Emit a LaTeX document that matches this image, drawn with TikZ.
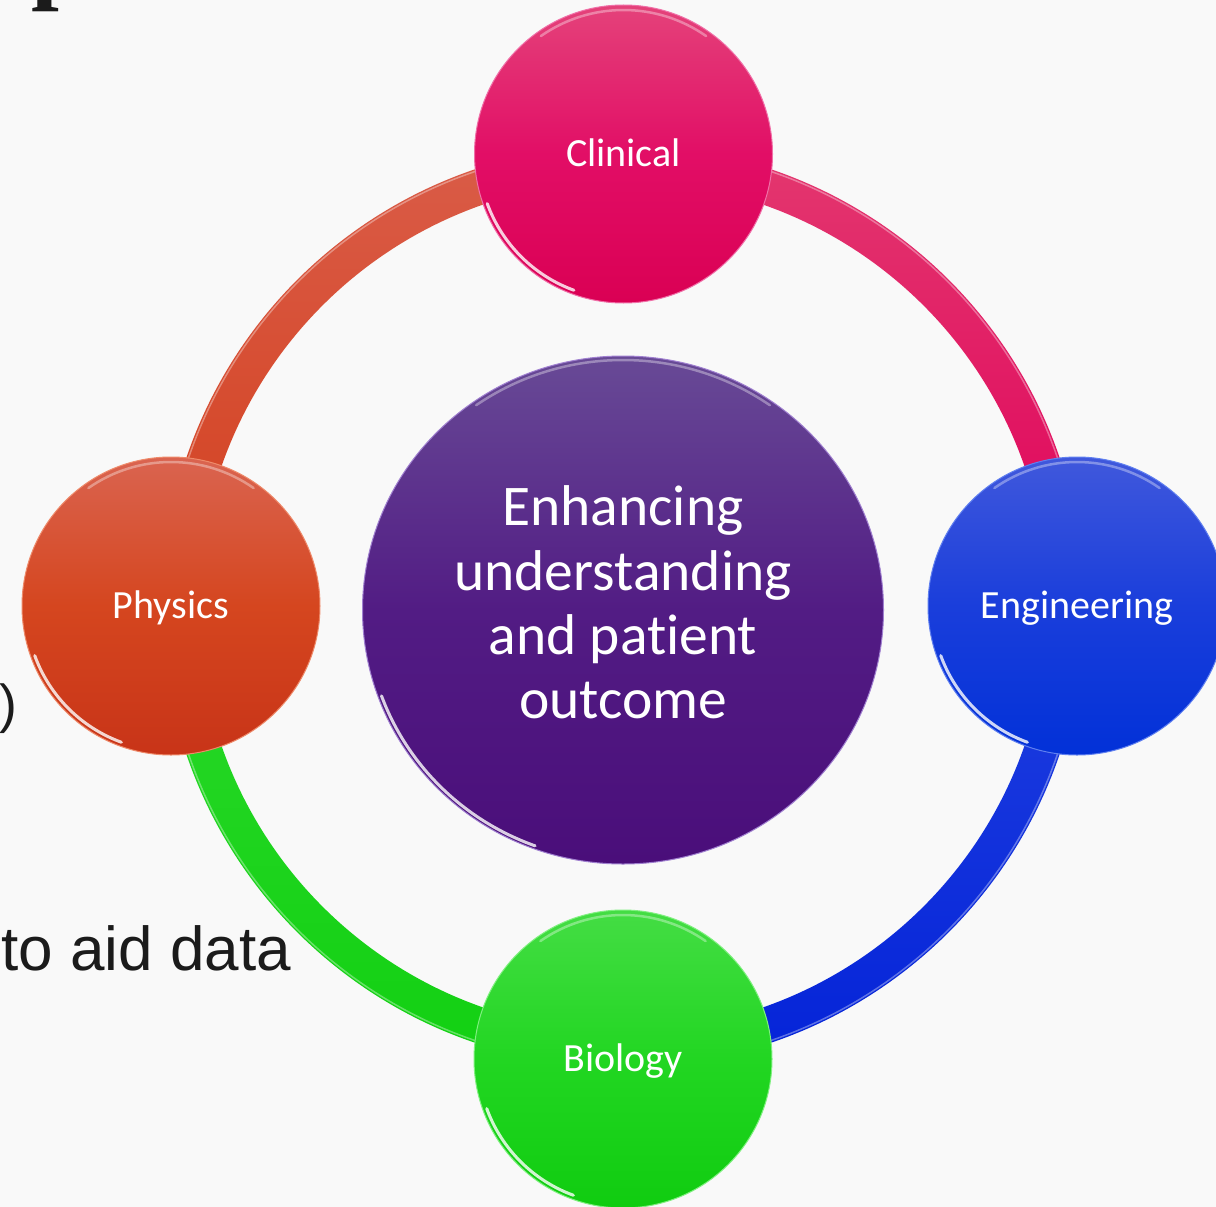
\documentclass[tikz,border=0pt]{standalone}
\usepackage{fontspec}
\setmainfont{Carlito}[Ligatures={NoCommon}]
\newfontfamily\arialf{Liberation Sans}
\newfontfamily\timesf{Liberation Serif}
\usetikzlibrary{shapes.geometric}
\definecolor{bgc}{HTML}{F9F9F9}
\definecolor{txtc}{HTML}{1B1B1B}
\definecolor{clA}{HTML}{E4427A}\definecolor{clM}{HTML}{E20E66}\definecolor{clB}{HTML}{DA0054}\definecolor{clR}{HTML}{F070A8}
\definecolor{enA}{HTML}{4058DC}\definecolor{enM}{HTML}{1A3EDB}\definecolor{enB}{HTML}{0231D8}\definecolor{enR}{HTML}{6080F0}
\definecolor{phA}{HTML}{DA6450}\definecolor{phM}{HTML}{D5461F}\definecolor{phB}{HTML}{C83418}\definecolor{phR}{HTML}{EE8A6A}
\definecolor{biA}{HTML}{44DD44}\definecolor{biM}{HTML}{22D622}\definecolor{biB}{HTML}{10CC10}\definecolor{biR}{HTML}{80F080}
\definecolor{ceA}{HTML}{684A96}\definecolor{ceM}{HTML}{521C84}\definecolor{ceB}{HTML}{4A0E7A}\definecolor{ceR}{HTML}{A080D0}
\definecolor{orA}{HTML}{DA5C48}\definecolor{orB}{HTML}{D3401D}
\definecolor{pkA}{HTML}{E3386F}\definecolor{pkB}{HTML}{E0005A}
\definecolor{blA}{HTML}{2040E0}\definecolor{blB}{HTML}{0423D8}
\definecolor{grA}{HTML}{2AD82A}\definecolor{grB}{HTML}{12D012}
\begin{document}
\begin{tikzpicture}[x=1pt,y=1pt,
  sat/.style={circle, minimum size=298pt, inner sep=0pt, text=white, line width=1pt,
    font=\fontsize{40}{48}\selectfont, text height=28pt, text depth=4pt},
  hilite/.style={white, line width=3pt, opacity=0.8, line cap=round},
  tophl/.style={white, line width=2.5pt, opacity=0.35, line cap=round},
  ringedge/.style={white, line width=1.5pt, opacity=0.35},
  bgtext/.style={inner sep=0pt, text=txtc}]

\fill[bgc] (0,0) rectangle (1216,-1207);
\useasboundingbox (0,0) rectangle (1216,-1207);

% background slide text fragments
\node[bgtext, anchor=base west, font=\timesf\bfseries\fontsize{100}{100}\selectfont] (ptxt) at (31.7,9.6) {p};
\node[bgtext, anchor=base east, font=\arialf\fontsize{53.5}{60}\selectfont] (paren) at (17.5,-722) {)};
\node[bgtext, anchor=base east, font=\arialf\fontsize{62}{70}\selectfont] (aid) at (291,-970) {to aid data};

% ring
\coordinate (ring) at (623,-606);
\path[top color=orA, bottom color=orB] ([shift={(90:461)}]ring) arc[start angle=90, end angle=180, radius=461]
  -- ([shift={(180:425)}]ring) arc[start angle=180, end angle=90, radius=425] -- cycle;
\path[top color=pkA, bottom color=pkB] ([shift={(0:461)}]ring) arc[start angle=0, end angle=90, radius=461]
  -- ([shift={(90:425)}]ring) arc[start angle=90, end angle=0, radius=425] -- cycle;
\path[top color=blA, bottom color=blB] ([shift={(270:461)}]ring) arc[start angle=270, end angle=360, radius=461]
  -- ([shift={(0:425)}]ring) arc[start angle=360, end angle=270, radius=425] -- cycle;
\path[top color=grA, bottom color=grB] ([shift={(180:461)}]ring) arc[start angle=180, end angle=270, radius=461]
  -- ([shift={(270:425)}]ring) arc[start angle=270, end angle=180, radius=425] -- cycle;
\foreach \a in {0,90,180,270}
  \draw[ringedge] ([shift={(\a+15:459)}]ring) arc[start angle=\a+15, end angle=\a+75, radius=459];

% satellites
\node[sat, top color=clA, bottom color=clB, middle color=clM, draw=clR] (clin) at (623.5,-154) {Clinical};
\node[sat, top color=enA, bottom color=enB, middle color=enM, draw=enR] (eng) at (1077,-606) {Engineering};
\node[sat, top color=phA, bottom color=phB, middle color=phM, draw=phR] (phys) at (171,-606) {Physics};
\node[sat, top color=biA, bottom color=biB, middle color=biM, draw=biR] (bio) at (623,-1059) {Biology};
\foreach \n in {clin,eng,phys,bio}{
  \draw[hilite] ([shift={(200:145)}]\n.center) arc[start angle=200, end angle=250, radius=145];
  \draw[tophl] ([shift={(55:144)}]\n.center) arc[start angle=55, end angle=125, radius=144];
}

% centre
\node[ellipse, minimum width=521pt, minimum height=508pt, inner sep=0pt, line width=1pt,
  top color=ceA, bottom color=ceB, middle color=ceM, draw=ceR] (core) at (623,-610) {};
\draw[hilite] ([shift={(200:257 and 251)}]core.center) arc[start angle=200, end angle=250, x radius=257, y radius=251];
\draw[tophl] ([shift={(55:256 and 250)}]core.center) arc[start angle=55, end angle=125, x radius=256, y radius=250];
\node[inner sep=0pt, text=white, align=center, font=\fontsize{57.5}{64.3}\selectfont] (coretxt) at (623,-602.5)
  {Enhancing\\understanding\\and patient\\outcome};
\end{tikzpicture}
\end{document}
